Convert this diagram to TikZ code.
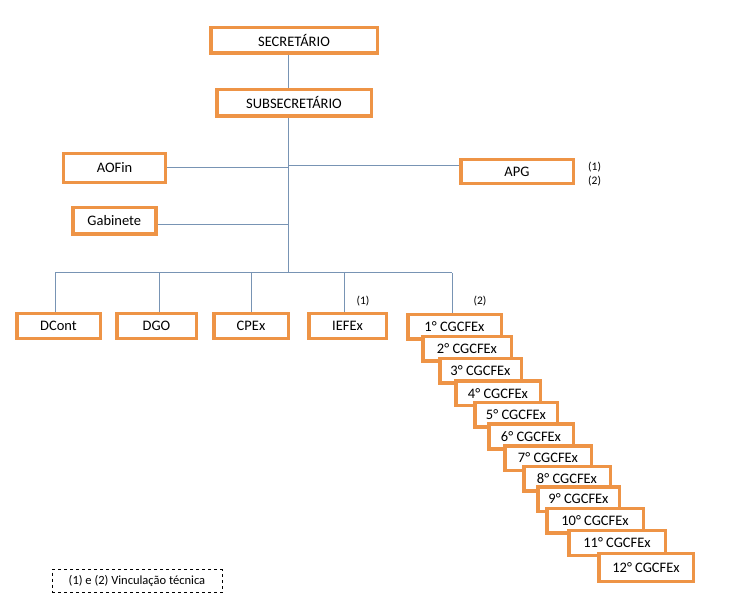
\documentclass[tikz,border=0pt]{standalone}
\usepackage{fontspec}
\setmainfont{Carlito}
\definecolor{boxorange}{RGB}{238,148,70}
\definecolor{lineblue}{RGB}{120,148,180}
\begin{document}
\begin{tikzpicture}[x=1pt,y=-1pt,
  box/.style={draw=boxorange,line width=3.5pt,fill=white,inner sep=0pt,font=\fontsize{14.5}{15}\selectfont},
  conn/.style={draw=lineblue,line width=1pt},
  note/.style={font=\fontsize{11.5}{12}\selectfont,inner sep=0pt}]
\useasboundingbox (0,0) rectangle (756,604);
% coordinates
\coordinate (top) at (288,40);
\coordinate (bt) at (288,273);
\coordinate (japg) at (288,166);
\coordinate (jgab) at (288,225);
\coordinate (bl) at (55,273);
\coordinate (br) at (452,273);
\coordinate (d1) at (55,273);
\coordinate (d2) at (159,273);
\coordinate (d3) at (251,273);
\coordinate (d4) at (344,273);
\coordinate (d5) at (452,273);
% boxes (positions)
\path
 node[box,minimum width=166.5,minimum height=25.5] (sec) at (294,40.5) {SECRETÁRIO}
 node[box,minimum width=154.5,minimum height=26.5] (sub) at (294,103) {SUBSECRETÁRIO}
 node[box,minimum width=102,minimum height=29] (aofin) at (114.5,168) {AOFin}
 node[box,minimum width=112.5,minimum height=24] (apg) at (517,171.5) {APG}
 node[box,minimum width=83,minimum height=26.5] (gab) at (114.3,220.7) {Gabinete};
% connectors
\draw[conn] (sec.south -| top) -- (bt);
\draw[conn] (aofin.east) -- (aofin.east -| bt);
\draw[conn] (japg) -- (japg -| apg.west);
\draw[conn] (jgab -| gab.east) -- (jgab);
\draw[conn] (bl) -- (br);
% redraw boxes over the spine
\node[box,minimum width=166.5,minimum height=25.5] at (sec) {SECRETÁRIO};
\node[box,minimum width=154.5,minimum height=26.5] at (sub) {SUBSECRETÁRIO};
% bottom row
\node[box,minimum width=83.5,minimum height=25] (dcont) at (58.5,326) {DCont};
\node[box,minimum width=79.5,minimum height=25] (dgo) at (156.5,326) {DGO};
\node[box,minimum width=74.5,minimum height=25] (cpex) at (251,326) {CPEx};
\node[box,minimum width=77.5,minimum height=25] (iefex) at (347.5,326) {IEFEx};
\draw[conn] (d1) -- (d1 |- dcont.north);
\draw[conn] (d2) -- (d2 |- dgo.north);
\draw[conn] (d3) -- (d3 |- cpex.north);
\draw[conn] (d4) -- (d4 |- iefex.north);
% cascade
\node[box,minimum width=93.5,minimum height=24.5] (c1) at (454.5,327) {1° CGCFEx};
\draw[conn] (d5) -- (d5 |- c1.north);
\node[box,minimum width=88.5,minimum height=24.5] (c2) at (467,349) {2° CGCFEx};
\node[box,minimum width=81.5,minimum height=24.5] (c3) at (480.5,371) {3° CGCFEx};
\node[box,minimum width=84.5,minimum height=24.5] (c4) at (498,393.5) {4° CGCFEx};
\node[box,minimum width=82.5,minimum height=24.5] (c5) at (516,415) {5° CGCFEx};
\node[box,minimum width=84.5,minimum height=24.5] (c6) at (531,436.5) {6° CGCFEx};
\node[box,minimum width=86.5,minimum height=24.5] (c7) at (548,458) {7° CGCFEx};
\node[box,minimum width=86.5,minimum height=24.5] (c8) at (567,478.5) {8° CGCFEx};
\node[box,minimum width=81.5,minimum height=24.5] (c9) at (578.5,499) {9° CGCFEx};
\node[box,minimum width=96.5,minimum height=24.5] (c10) at (595,520.5) {10° CGCFEx};
\node[box,minimum width=96.5,minimum height=25] (c11) at (617,543) {11° CGCFEx};
\node[box,minimum width=94.5,minimum height=28] (c12) at (646,567.5) {12° CGCFEx};
% notes
\node[note,anchor=west] (n1) at (588,167) {(1)};
\node[note,anchor=west] (n2) at (588,181) {(2)};
\node[note] (n3) at (363,301) {(1)};
\node[note] (n4) at (480,301) {(2)};
\node[draw,dashed,line width=0.6pt,minimum width=170,minimum height=23,inner sep=0pt,font=\fontsize{12.5}{13}\selectfont] (leg) at (137,581) {(1) e (2) Vinculação técnica};
\end{tikzpicture}
\end{document}
